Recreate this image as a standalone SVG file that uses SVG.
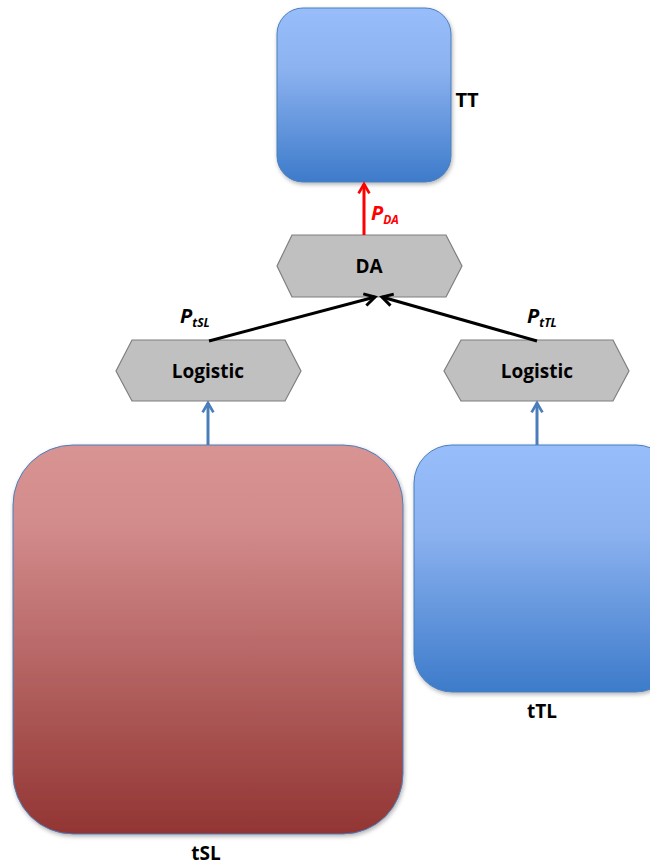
<svg xmlns="http://www.w3.org/2000/svg" width="650" height="865" viewBox="0 0 650 865">
<defs>
<linearGradient id="blueG" x1="0" y1="0" x2="0" y2="1">
<stop offset="0" stop-color="#97bdfb"/><stop offset="0.35" stop-color="#8cb2f0"/><stop offset="1" stop-color="#3d7bca"/>
</linearGradient>
<linearGradient id="redG" x1="0" y1="0" x2="0" y2="1">
<stop offset="0" stop-color="#d89393"/><stop offset="0.2" stop-color="#d38c8c"/><stop offset="1" stop-color="#923533"/>
</linearGradient>
<filter id="sh" x="-10%" y="-10%" width="130%" height="130%">
<feDropShadow dx="1" dy="2" stdDeviation="2" flood-color="#000" flood-opacity="0.3"/>
</filter>
<marker id="ahRed" viewBox="0 0 10 10" refX="8" refY="5" markerWidth="4.5" markerHeight="4.5" orient="auto">
<path d="M1,1 L8,5 L1,9" fill="none" stroke="#ff0000" stroke-width="2"/>
</marker>
<marker id="ahBlue" viewBox="0 0 10 10" refX="8" refY="5" markerWidth="4.5" markerHeight="4.5" orient="auto">
<path d="M1,1 L8,5 L1,9" fill="none" stroke="#4a7ebb" stroke-width="2"/>
</marker>
<marker id="ahBlack" viewBox="0 0 10 10" refX="8" refY="5" markerWidth="5" markerHeight="5" orient="auto">
<path d="M1,1 L8,5 L1,9" fill="none" stroke="#000" stroke-width="2"/>
</marker>
</defs>
<style>
.box{stroke:#4a7ebb;stroke-width:1;filter:url(#sh)}
.hex{fill:#c0c0c0;stroke:#7f7f7f;stroke-width:1.2}
.lbl{font-family:"Open Sans","Liberation Sans",sans-serif;font-weight:bold;font-size:19px;fill:#000;text-anchor:middle}
.p{font-family:"Open Sans","Liberation Sans",sans-serif;font-weight:bold;font-style:italic;font-size:20px;fill:#000}
.sub{font-size:12px}
</style>
<rect width="650" height="865" fill="#ffffff"/>
<g id="TT">
<rect class="box" x="277" y="8" width="174" height="174" rx="26" fill="url(#blueG)"/>
<text class="lbl" x="467" y="107" style="font-size:20px">TT</text>
</g>
<g id="DA">
<polygon class="hex" points="292,235 446,235 462,266 446,297 292,297 277,266"/>
<text class="lbl" x="369" y="273">DA</text>
</g>
<g id="LogisticL">
<polygon class="hex" points="132,340 285,340 301,371 285,401 132,401 116,371"/>
<text class="lbl" x="208" y="378">Logistic</text>
</g>
<g id="LogisticR">
<polygon class="hex" points="461,340 613,340 629,371 613,401 461,401 444,371"/>
<text class="lbl" x="537" y="378">Logistic</text>
</g>
<g id="tSL">
<rect class="box" x="13" y="445" width="390" height="389" rx="60" fill="url(#redG)"/>
<text class="lbl" x="206" y="860">tSL</text>
</g>
<g id="tTL">
<rect class="box" x="414" y="445" width="260" height="247" rx="38" fill="url(#blueG)"/>
<text class="lbl" x="542" y="718">tTL</text>
</g>
<g id="connectors">
<line x1="364" y1="235" x2="364" y2="184" stroke="#ff0000" stroke-width="3" marker-end="url(#ahRed)"/>
<line x1="208" y1="445" x2="208" y2="403" stroke="#4a7ebb" stroke-width="3" marker-end="url(#ahBlue)"/>
<line x1="537" y1="445" x2="537" y2="403" stroke="#4a7ebb" stroke-width="3" marker-end="url(#ahBlue)"/>
<line x1="209" y1="341" x2="375" y2="297" stroke="#000" stroke-width="3" marker-end="url(#ahBlack)"/>
<line x1="537" y1="341" x2="382" y2="297" stroke="#000" stroke-width="3" marker-end="url(#ahBlack)"/>
<text class="p" x="371" y="220" style="fill:#ff0000">P<tspan class="sub" dy="4">DA</tspan></text>
<text class="p" x="180" y="323">P<tspan class="sub" dy="4">tSL</tspan></text>
<text class="p" x="527" y="323">P<tspan class="sub" dy="4">tTL</tspan></text>
</g>
</svg>
